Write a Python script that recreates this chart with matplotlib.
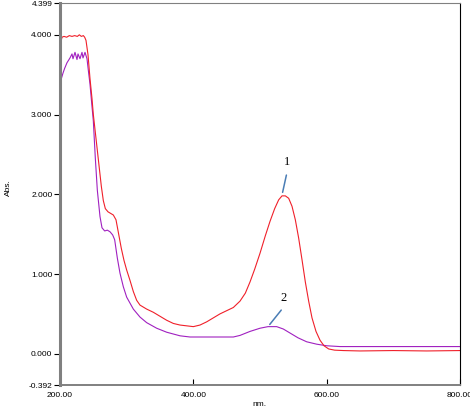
import matplotlib
matplotlib.use("Agg")
import matplotlib.pyplot as plt

# curve 1 (red) - wavelength (nm) and absorbance
wl_1 = [200, 201, 203, 206, 210, 214, 218, 222, 226, 229, 232, 235, 237, 239,
        242, 245, 248, 250, 254, 258, 262, 265, 268, 272, 276, 280, 284, 288,
        292, 296, 300, 305, 310, 315, 320, 330, 340, 350, 360, 370, 380, 390,
        400, 410, 420, 430, 440, 450, 460, 470, 478, 485, 492, 500, 508, 515,
        522, 528, 533, 538, 543, 548, 553, 558, 563, 568, 573, 578, 584, 590,
        596, 603, 612, 625, 650, 700, 750, 800]
abs_1 = [3.95, 3.90, 3.97, 3.98, 3.97, 3.99, 3.98, 3.99, 3.98, 4.00, 3.98, 3.99,
         3.97, 3.93, 3.75, 3.45, 3.20, 3.00, 2.70, 2.40, 2.10, 1.92, 1.82, 1.78,
         1.76, 1.74, 1.68, 1.50, 1.32, 1.17, 1.05, 0.92, 0.78, 0.67, 0.61, 0.56,
         0.52, 0.47, 0.42, 0.38, 0.36, 0.35, 0.34, 0.36, 0.40, 0.45, 0.50, 0.54,
         0.58, 0.66, 0.76, 0.90, 1.06, 1.26, 1.48, 1.66, 1.82, 1.93, 1.98, 1.98,
         1.95, 1.85, 1.68, 1.45, 1.18, 0.90, 0.66, 0.45, 0.28, 0.17, 0.10, 0.06,
         0.045, 0.04, 0.035, 0.04, 0.035, 0.04]

# curve 2 (purple)
wl_2 = [200, 202, 204.5, 207, 210.5, 215, 218, 219.5, 222.5, 225.5, 227, 230,
        233, 234.5, 237.5, 240.5, 242, 245, 248, 250, 253, 256, 260, 263, 267,
        271, 275, 279, 282, 286, 290, 295, 300, 310, 320, 330, 345, 360, 380,
        395, 420, 440, 460, 470, 485, 500, 512, 525, 535, 545, 557, 570, 585,
        600, 620, 700, 800]
abs_2 = [3.38, 3.45, 3.52, 3.58, 3.65, 3.71, 3.76, 3.70, 3.78, 3.69, 3.76, 3.70,
         3.78, 3.71, 3.78, 3.70, 3.59, 3.38, 3.10, 2.92, 2.45, 2.05, 1.72, 1.58,
         1.54, 1.55, 1.53, 1.49, 1.43, 1.20, 1.01, 0.84, 0.71, 0.56, 0.46, 0.39,
         0.32, 0.27, 0.225, 0.21, 0.21, 0.21, 0.21, 0.23, 0.28, 0.32, 0.34, 0.34,
         0.31, 0.26, 0.20, 0.15, 0.12, 0.10, 0.09, 0.09, 0.09]

x_ticks = [200, 400, 600, 800]
y_ticks = [-0.392, 0, 1, 2, 3, 4, 4.399]

fig = plt.figure(figsize=(4.7, 4.08), dpi=100)
ax = fig.add_axes([60 / 470, 23 / 408, 400 / 470, 382 / 408])

ax.plot(wl_2, abs_2, color="#a020c0", lw=0.8)
ax.plot(wl_1, abs_1, color="#f0202a", lw=0.8)

ax.set_xlim(200, 800)
ax.set_ylim(-0.392, 4.399)

# labels on the two peaks
ax.annotate("", xy=(533, 1.99), xytext=(540.5, 2.275),
            arrowprops=dict(arrowstyle="-", color="#4a7db5", lw=1.1))
ax.text(540, 2.40, "1", ha="center", va="center", fontsize=9,
        family="Liberation Serif")
ax.annotate("", xy=(512, 0.34), xytext=(534.5, 0.575),
            arrowprops=dict(arrowstyle="-", color="#4a7db5", lw=1.1))
ax.text(536, 0.70, "2", ha="center", va="center", fontsize=9,
        family="Liberation Serif")

ax.set_xticks(x_ticks)
ax.set_xticklabels(["%.2f" % v for v in x_ticks])
ax.set_yticks(y_ticks)
ax.set_yticklabels(["%.3f" % v for v in y_ticks])
ax.tick_params(axis="x", direction="in", length=4, width=0.8, pad=5,
               labelsize=6)
ax.tick_params(axis="y", direction="out", length=4, width=0.8, pad=1.5,
               labelsize=6)
for lab in ax.get_xticklabels() + ax.get_yticklabels():
    lab.set_family("Liberation Sans")

ax.spines["left"].set_color("#808080")
ax.spines["left"].set_linewidth(2.2)
ax.spines["bottom"].set_color("#808080")
ax.spines["bottom"].set_linewidth(1.4)
ax.spines["top"].set_color("#808080")
ax.spines["top"].set_linewidth(0.8)
ax.spines["right"].set_color("black")
ax.spines["right"].set_linewidth(0.8)

fig.text(259 / 470, 1 - 405 / 408, "nm.", ha="center", va="center",
         fontsize=6, family="Liberation Sans")
fig.text(8 / 470, 1 - 188 / 408, "Abs.", ha="center", va="center",
         rotation=90, fontsize=6, family="Liberation Sans")

fig.savefig("out.png", dpi=100)
